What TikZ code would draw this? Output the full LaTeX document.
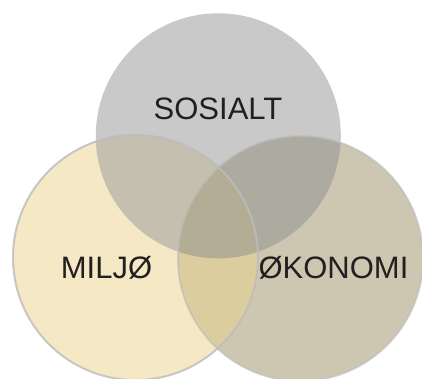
\documentclass[tikz,border=0pt]{standalone}
\usepackage{fontspec}
\setmainfont{Liberation Sans}
\definecolor{cL}{RGB}{245,232,196}
\definecolor{cO}{RGB}{205,199,178}
\definecolor{cS}{RGB}{200,201,200}
\definecolor{cLS}{RGB}{196,191,174}
\definecolor{cOS}{RGB}{173,171,160}
\definecolor{cLO}{RGB}{220,205,158}
\definecolor{cAll}{RGB}{180,173,149}
\definecolor{cLine}{RGB}{188,188,188}
\definecolor{cText}{RGB}{35,31,32}
\begin{document}
\begin{tikzpicture}[x=1bp,y=-1bp,
  outline/.style={draw=cLine,line width=2bp},
  lbl/.style={inner sep=0pt,anchor=base,text=cText,font=\fontsize{31bp}{36bp}\selectfont}]
\useasboundingbox (0,0) rectangle (422,379);
\coordinate (s) at (218.3,135.8);
\coordinate (m) at (135.5,257.5);
\coordinate (o) at (300.5,258.5);
\def\rad{122.5bp}
\fill[cL] (m) circle (\rad);
\fill[cO] (o) circle (\rad);
\fill[cS] (s) circle (\rad);
\begin{scope}
  \clip (o) circle (\rad);
  \fill[cOS] (s) circle (\rad);
\end{scope}
\begin{scope}
  \clip (m) circle (\rad);
  \fill[cLO] (o) circle (\rad);
  \fill[cLS] (s) circle (\rad);
  \clip (o) circle (\rad);
  \fill[cAll] (s) circle (\rad);
\end{scope}
\draw[outline,draw opacity=0.6] (o) circle (\rad);
\draw[outline,draw opacity=0.8] (m) circle (\rad);
\node[lbl] (ts) at (218,119) {SOSIALT};
\node[lbl] (tm) at (106.5,278.5) {MILJØ};
\node[lbl] (to) at (333.5,278.5) {ØKONOMI};
\end{tikzpicture}
\end{document}
